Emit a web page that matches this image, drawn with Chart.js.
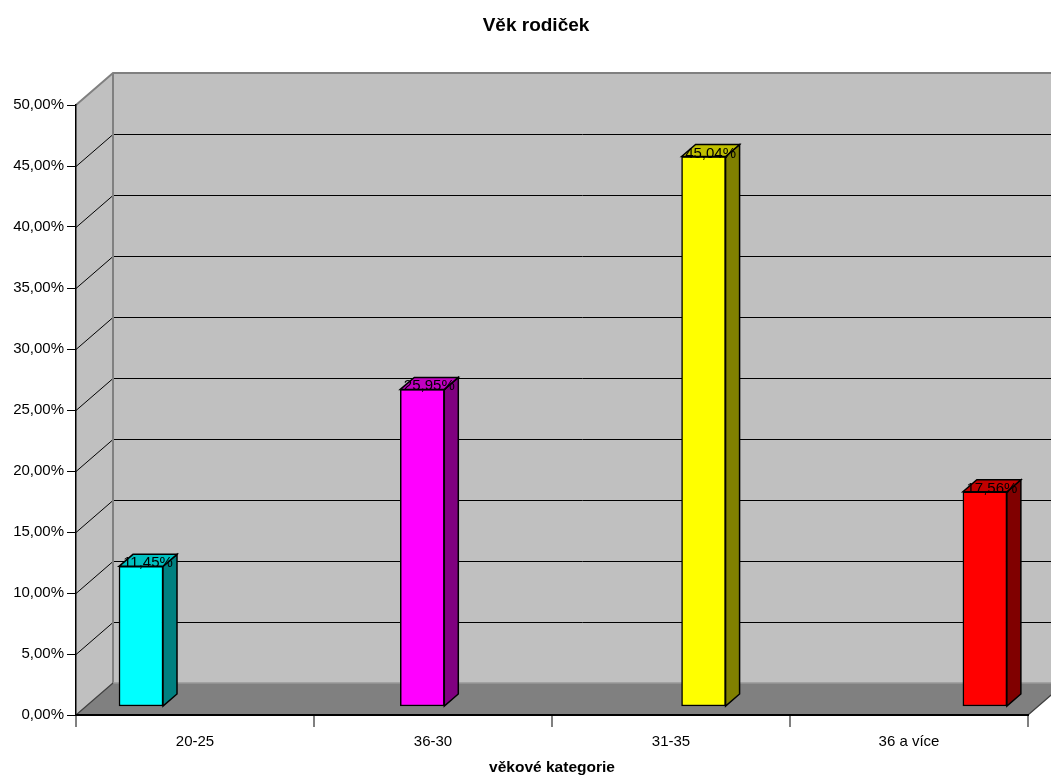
<!DOCTYPE html>
<html>
<head>
<meta charset="utf-8">
<title>Věk rodiček</title>
<script src="https://cdn.jsdelivr.net/npm/chart.js@4.4.1/dist/chart.umd.min.js"></script>
<style>
  html, body { margin: 0; padding: 0; background: #ffffff; }
  #wrap { width: 1051px; height: 776px; }
</style>
</head>
<body>
<div id="wrap"><canvas id="chart" width="1051" height="776"></canvas></div>
<script>
// Age groups of mothers and their share of births (%)
const categories = ['20-25', '36-30', '31-35', '36 a více'];
const shares = [11.45, 25.95, 45.04, 17.56];
const yMin = 0;
const yMax = 50;
const yStep = 5;

// Face colours of the 3D columns: front, right side, top
const frontColors = ['#00FFFF', '#FF00FF', '#FFFF00', '#FF0000'];
const sideColors  = ['#008080', '#800080', '#808000', '#800000'];
const topColors   = ['#00C0C0', '#C000C0', '#C0C000', '#C00000'];

const FONT = "'Liberation Sans', Arial, sans-serif";
const WALL = { dx: 37, dy: -32 };   // depth of the back wall
const BAR_DEPTH = { dx: 14, dy: -12 };

const fmtPct = v => v.toFixed(2).replace('.', ',') + '%';

function poly(ctx, pts, fill, stroke, lw) {
  ctx.beginPath();
  ctx.moveTo(pts[0][0], pts[0][1]);
  for (let i = 1; i < pts.length; i++) ctx.lineTo(pts[i][0], pts[i][1]);
  ctx.closePath();
  if (fill) { ctx.fillStyle = fill; ctx.fill(); }
  if (stroke) { ctx.strokeStyle = stroke; ctx.lineWidth = lw || 1; ctx.stroke(); }
}

// Side wall, back wall, floor and gridlines of the 3D box
const wallsPlugin = {
  id: 'walls',
  beforeDraw(chart) {
    const { ctx, chartArea: a } = chart;
    const ys = chart.scales.y;
    const L = a.left, R = a.right, T = a.top, B = a.bottom;
    const dx = WALL.dx, dy = WALL.dy;
    ctx.save();
    // left side wall
    poly(ctx, [[L, T], [L + dx, T + dy], [L + dx, B + dy], [L, B]], '#C0C0C0');
    // back wall
    poly(ctx, [[L + dx, T + dy], [R + dx, T + dy], [R + dx, B + dy], [L + dx, B + dy]], '#C0C0C0');
    // floor
    poly(ctx, [[L, B], [R, B], [R + dx, B + dy], [L + dx, B + dy]], '#808080');

    // gridlines across side wall and back wall
    ctx.strokeStyle = '#000000';
    ctx.lineWidth = 1;
    for (let v = yMin + yStep; v < yMax; v += yStep) {
      const y = Math.round(ys.getPixelForValue(v)) + 0.5;
      ctx.beginPath();
      ctx.moveTo(L, y);
      ctx.lineTo(L + dx, y + dy);
      ctx.lineTo(R + dx, y + dy);
      ctx.stroke();
    }

    // wall edges
    ctx.strokeStyle = '#808080';
    ctx.lineWidth = 2;
    ctx.beginPath();
    ctx.moveTo(L, T);
    ctx.lineTo(L + dx, T + dy);
    ctx.lineTo(R + dx, T + dy);
    ctx.moveTo(L + dx, T + dy);
    ctx.lineTo(L + dx, B + dy);
    ctx.stroke();

    // wall / floor seam
    ctx.strokeStyle = '#999999';
    ctx.lineWidth = 1.5;
    ctx.beginPath();
    ctx.moveTo(L + dx, B + dy);
    ctx.lineTo(R + dx, B + dy);
    ctx.stroke();

    // floor outline
    ctx.strokeStyle = '#404040';
    ctx.lineWidth = 1.2;
    ctx.beginPath();
    ctx.moveTo(L, B);
    ctx.lineTo(L + dx, B + dy);
    ctx.moveTo(R, B);
    ctx.lineTo(R + dx, B + dy);
    ctx.stroke();

    // chart title
    ctx.fillStyle = '#000000';
    ctx.font = 'bold 19px ' + FONT;
    ctx.textAlign = 'center';
    ctx.textBaseline = 'alphabetic';
    ctx.fillText('Věk rodiček', 536, 31);
    ctx.restore();
  }
};

// Right side and top faces of each column, then the value labels
const columnsPlugin = {
  id: 'columns3d',
  afterDatasetsDraw(chart) {
    const { ctx } = chart;
    const meta = chart.getDatasetMeta(0);
    const dx = BAR_DEPTH.dx, dy = BAR_DEPTH.dy;
    ctx.save();
    ctx.lineJoin = 'miter';
    meta.data.forEach((bar, i) => {
      const p = bar.getProps(['x', 'y', 'base', 'width'], true);
      const l = p.x - p.width / 2, r = p.x + p.width / 2;
      const top = p.y, base = p.base;
      poly(ctx, [[r, top], [r + dx, top + dy], [r + dx, base + dy], [r, base]], sideColors[i], '#000000', 1.5);
      poly(ctx, [[l, top], [l + dx, top + dy], [r + dx, top + dy], [r, top]], topColors[i], '#000000', 1.5);
    });
    ctx.fillStyle = '#000000';
    ctx.font = '15px ' + FONT;
    ctx.textAlign = 'center';
    ctx.textBaseline = 'alphabetic';
    meta.data.forEach((bar, i) => {
      const p = bar.getProps(['x', 'y'], true);
      ctx.fillText(fmtPct(shares[i]), p.x + dx / 2, p.y + 1);
    });
    ctx.restore();
  }
};

new Chart(document.getElementById('chart'), {
  type: 'bar',
  data: {
    labels: categories,
    datasets: [{
      data: shares.map((v, i) => ({ x: i, y: v })),
      xAxisID: 'xb',
      yAxisID: 'yb',
      backgroundColor: frontColors,
      borderColor: '#000000',
      borderWidth: 1.5,
      borderSkipped: false,
      barThickness: 44
    }]
  },
  options: {
    responsive: false,
    animation: false,
    devicePixelRatio: 1,
    layout: { padding: { top: 105, right: 23, bottom: 0, left: 0 } },
    plugins: {
      legend: { display: false },
      title: { display: false },
      tooltip: { enabled: false }
    },
    scales: {
      // visible category axis on the front edge of the floor
      x: {
        type: 'category',
        labels: categories,
        offset: true,
        position: 'bottom',
        afterFit: s => { s.height = 61; },
        grid: { offset: true, drawOnChartArea: false, drawTicks: true, tickLength: 12, color: '#808080', lineWidth: 2 },
        border: { display: true, color: '#000000', width: 2 },
        ticks: { color: '#000000', font: { family: FONT, size: 15 }, padding: 6, maxRotation: 0 },
        title: { display: true, text: 'věkové kategorie', color: '#000000', font: { family: FONT, size: 15.5, weight: 'bold', lineHeight: 1.05 }, padding: { top: 0, bottom: 0 } }
      },
      y: {
        type: 'linear',
        position: 'left',
        min: yMin,
        max: yMax,
        afterFit: s => { s.width = 76; },
        grid: { drawOnChartArea: false, drawTicks: true, tickLength: 9, color: '#000000', lineWidth: 1 },
        border: { display: true, color: '#000000', width: 1.5 },
        ticks: { stepSize: yStep, color: '#000000', font: { family: FONT, size: 15 }, padding: 3, callback: v => fmtPct(v) }
      },
      // columns stand a little behind the front plane of the box
      xb: { type: 'linear', display: false, offset: false, min: -0.2311, max: 3.1533 },
      yb: { type: 'linear', display: false, min: yMin - 0.7377, max: yMax - 0.7377 }
    }
  },
  plugins: [wallsPlugin, columnsPlugin]
});
</script>
</body>
</html>
